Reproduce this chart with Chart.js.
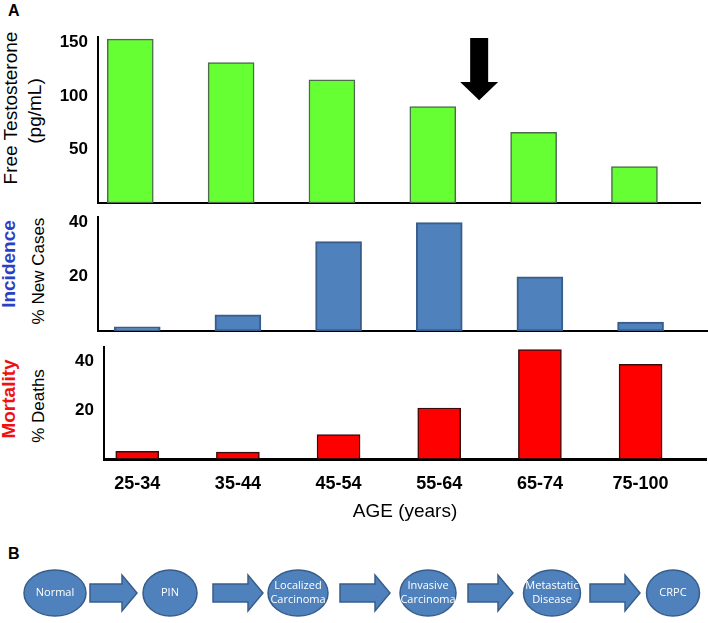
<!DOCTYPE html>
<html>
<head>
<meta charset="utf-8">
<script src="https://cdn.jsdelivr.net/npm/chart.js@4.4.0/dist/chart.umd.min.js"></script>
<style>
  body { margin: 0; background: #fff; width: 708px; height: 623px; position: relative; overflow: hidden; font-family: "Liberation Sans", Arial, sans-serif; }
  canvas { position: absolute; left: 0; }
  .rot { position: absolute; white-space: nowrap; transform: translate(-50%, -50%) rotate(-90deg); color: #000; }
  .tag { position: absolute; font-weight: bold; font-size: 16px; }
</style>
</head>
<body>
<div class="tag" style="left:8px;top:2px">A</div>
<div class="tag" style="left:8px;top:545px">B</div>

<div class="rot" style="left:11px;top:108px;font-size:19px">Free Testosterone</div>
<div class="rot" style="left:35px;top:111px;font-size:19px">(pg/mL)</div>
<div class="rot" style="left:9px;top:264px;font-size:19px;font-weight:bold;color:#2a3fc4">Incidence</div>
<div class="rot" style="left:39px;top:271px;font-size:17px">% New Cases</div>
<div class="rot" style="left:9px;top:399px;font-size:19px;font-weight:bold;color:#f01010">Mortality</div>
<div class="rot" style="left:39px;top:406px;font-size:17px">% Deaths</div>

<canvas id="testo" width="708" height="227" style="top:0"></canvas>
<canvas id="incid" width="708" height="158" style="top:197px"></canvas>
<canvas id="mort" width="708" height="200" style="top:327px"></canvas>
<svg id="flow" width="708" height="83" style="position:absolute;left:0;top:540px"></svg>

<script>
const ageGroups = ['25-34', '35-44', '45-54', '55-64', '65-74', '75-100'];
const testosterone = [153, 131, 115, 90, 66, 34];   // pg/mL
const incidence = [1.5, 6, 33, 40, 20, 3.3];       // % new cases
const mortality = [3.2, 2.8, 10, 21, 45, 39];      // % deaths
const testoTicks = [50, 100, 150];
const pctTicks = [20, 40];
const stages = [['Normal'], ['PIN'], ['Localized', 'Carcinoma'], ['Invasive', 'Carcinoma'], ['Metastatic', 'Disease'], ['CRPC']];

const FONT = '"Liberation Sans", Arial, sans-serif';

// black arrow pointing down between 55-64 and 65-74
const downArrow = {
  id: 'downArrow',
  afterDatasetsDraw(chart) {
    const {ctx, scales: {x, y}} = chart;
    const cx = x.getPixelForValue(3.46);
    const top = y.getPixelForValue(154), neck = y.getPixelForValue(113), tip = y.getPixelForValue(96);
    ctx.save();
    ctx.fillStyle = '#000';
    ctx.beginPath();
    ctx.moveTo(cx - 9, top);
    ctx.lineTo(cx + 9, top);
    ctx.lineTo(cx + 9, neck);
    ctx.lineTo(cx + 19, neck);
    ctx.lineTo(cx, tip);
    ctx.lineTo(cx - 19, neck);
    ctx.lineTo(cx - 9, neck);
    ctx.closePath();
    ctx.fill();
    ctx.restore();
  }
};

function barPanel(id, values, cfg) {
  return new Chart(document.getElementById(id), {
    type: 'bar',
    data: {
      datasets: [{
        data: values.map((v, i) => ({x: i, y: v})),
        backgroundColor: cfg.fill,
        borderColor: cfg.edge,
        borderWidth: cfg.edgeW,
        borderSkipped: false,
        barThickness: cfg.barW
      }]
    },
    options: {
      responsive: false,
      animation: false,
      events: [],
      layout: {padding: {top: cfg.top, right: cfg.right, bottom: cfg.bottom, left: 0}},
      plugins: {legend: {display: false}, tooltip: {enabled: false}},
      scales: {
        x: {
          type: 'linear',
          offset: false,
          min: cfg.xmin,
          max: cfg.xmax,
          grid: {display: false, drawTicks: false, offset: false},
          border: {color: '#000', width: cfg.xLine},
          ticks: {
            display: !!cfg.labels,
            color: '#000',
            padding: 14,
            font: {family: FONT, size: 18, weight: 'bold'},
            callback: v => ageGroups[v]
          },
          title: {
            display: !!cfg.labels,
            text: 'AGE (years)',
            color: '#000',
            font: {family: FONT, size: 19}
          },
          afterBuildTicks: s => { s.ticks = ageGroups.map((_, i) => ({value: i})); },
          afterFit: s => { s.height = cfg.xH; }
        },
        y: {
          min: 0,
          max: cfg.ymax,
          grid: {display: false, drawTicks: false},
          border: {color: '#000', width: 2},
          ticks: {color: '#000', padding: 10, font: {family: FONT, size: 17, weight: 'bold'}},
          afterBuildTicks: s => { s.ticks = cfg.ticks.map(v => ({value: v})); },
          afterFit: s => { s.width = cfg.left; }
        }
      }
    },
    plugins: cfg.extra || []
  });
}

barPanel('testo', testosterone, {
  fill: '#66ff33', edge: '#4b6b4b', edgeW: 1.5, barW: 46,
  top: 37, right: 8, bottom: 24, left: 98, xH: 0, xLine: 2,
  xmin: -0.32, xmax: 5.65, ymax: 155, ticks: testoTicks, extra: [downArrow]
});

barPanel('incid', incidence, {
  fill: '#4f81bd', edge: '#385d8a', edgeW: 2, barW: 46,
  top: 20, right: 1, bottom: 24, left: 98, xH: 0, xLine: 2,
  xmin: -0.39, xmax: 5.66, ymax: 42, ticks: pctTicks
});

barPanel('mort', mortality, {
  fill: '#ff0000', edge: '#3a0b0b', edgeW: 1.5, barW: 43,
  top: 20, right: 2, bottom: 0, left: 104, xH: 68, xLine: 3,
  xmin: -0.33, xmax: 5.65, ymax: 46, ticks: pctTicks, labels: true
});

// panel B: progression flow diagram
const stageX = [55, 170, 298, 428, 552, 673];
const stageW = [62, 54, 60, 56, 57, 53];
const arrowSpan = [[90, 137], [213, 263], [340, 390], [468, 513], [590, 640]];
const svg = document.getElementById('flow');
const cy = 53;
let out = '';
arrowSpan.forEach(([a, b]) => {
  const h = b - 15;
  out += `<polygon points="${a},${cy - 9} ${h},${cy - 9} ${h},${cy - 18} ${b},${cy} ${h},${cy + 18} ${h},${cy + 9} ${a},${cy + 9}" fill="#4f81bd" stroke="#385d8a" stroke-width="1.5"/>`;
});
stages.forEach((lines, i) => {
  out += `<ellipse cx="${stageX[i]}" cy="${cy}" rx="${stageW[i] / 2}" ry="23" fill="#4f81bd" stroke="#385d8a" stroke-width="1.5"/>`;
  lines.forEach((t, j) => {
    const ty = lines.length === 1 ? cy : cy - 7 + j * 14;
    out += `<text x="${stageX[i]}" y="${ty}" fill="#fff" font-family="Open Sans" font-size="11" text-anchor="middle" dominant-baseline="middle">${t}</text>`;
  });
});
svg.innerHTML = out;
</script>
</body>
</html>
